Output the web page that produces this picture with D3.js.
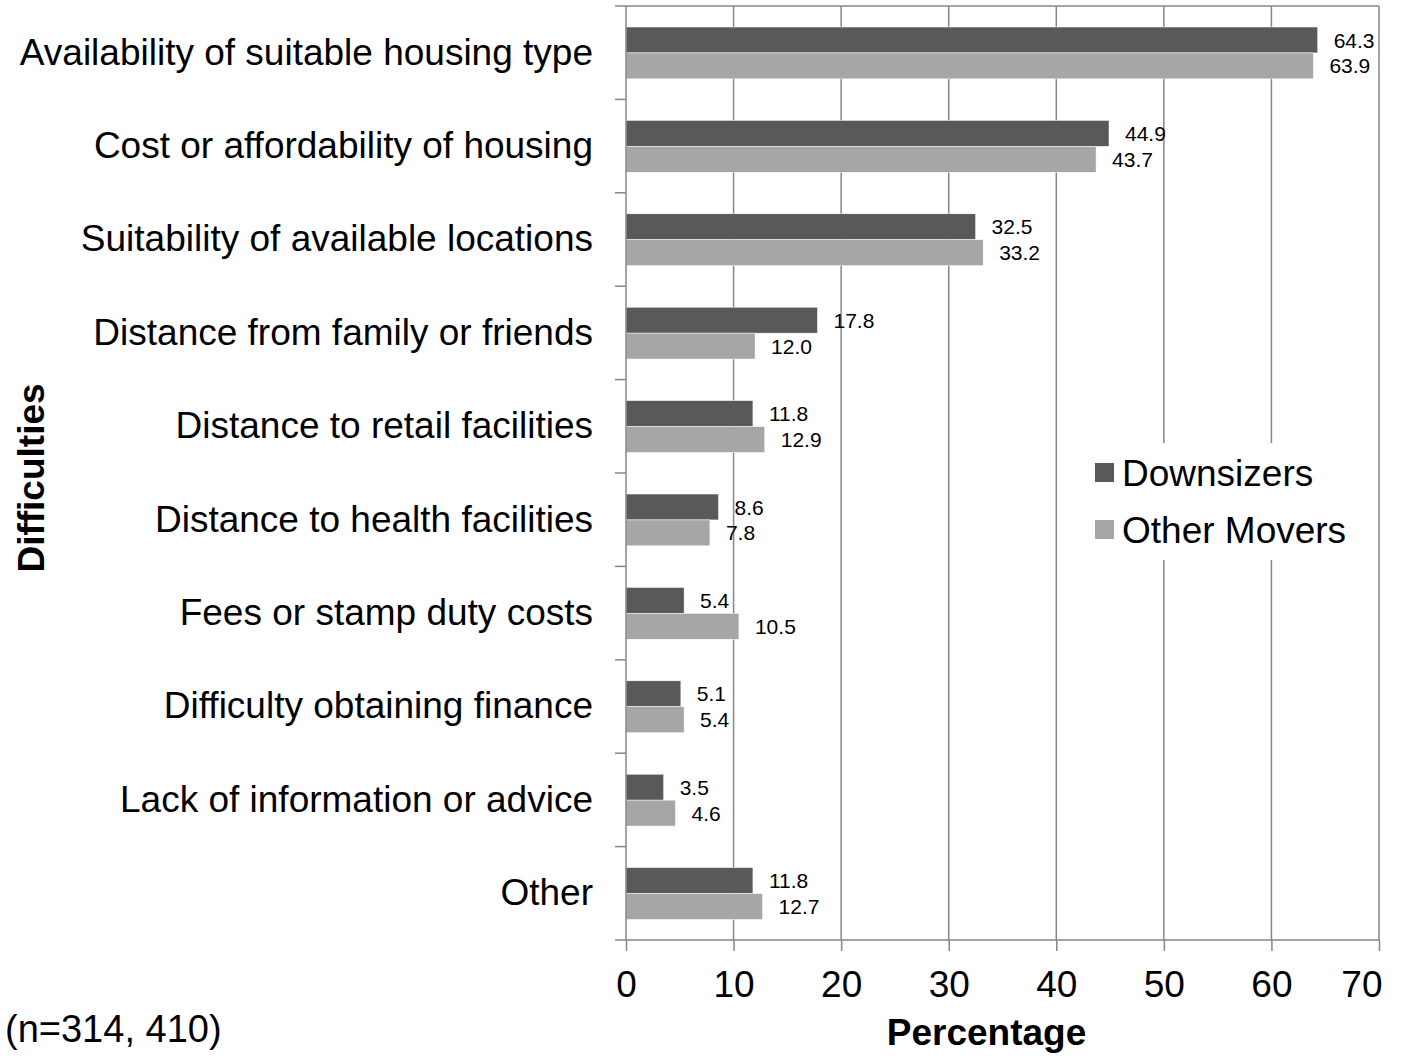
<!DOCTYPE html>
<html>
<head>
<meta charset="utf-8">
<script src="https://cdn.jsdelivr.net/npm/d3@7"></script>
<style>
  html, body { margin: 0; padding: 0; background: #fff; }
  svg { display: block; font-family: "Liberation Sans", Arial, sans-serif; }
</style>
</head>
<body>
<svg id="chart" width="1402" height="1056"></svg>
<script>
// data
const categories = [
  "Availability of suitable housing type",
  "Cost or affordability of housing",
  "Suitability of available locations",
  "Distance from family or friends",
  "Distance to retail facilities",
  "Distance to health facilities",
  "Fees or stamp duty costs",
  "Difficulty obtaining finance",
  "Lack of information or advice",
  "Other"
];
const seriesNames = ["Downsizers", "Other Movers"];
const downsizers  = [64.3, 44.9, 32.5, 17.8, 11.8, 8.6, 5.4, 5.1, 3.5, 11.8];
const otherMovers = [63.9, 43.7, 33.2, 12.0, 12.9, 7.8, 10.5, 5.4, 4.6, 12.7];
const xTicks = [0, 10, 20, 30, 40, 50, 60, 70];
const seriesColors = ["#595959", "#a6a6a6"];

const rows = categories.map((c, i) => ({
  cat: c,
  values: [
    { series: seriesNames[0], value: downsizers[i] },
    { series: seriesNames[1], value: otherMovers[i] }
  ]
}));

const svg = d3.select("#chart");
const plotLeft = 626, plotRight = 1379, plotTop = 6, plotBottom = 940;
const gridColor = "#868686";
const bigFont = 37;

let x = d3.scaleLinear().domain([0, 70]).range([plotLeft, plotRight]);
let y = d3.scaleBand().domain(categories).range([plotTop, plotBottom]).padding(0);
let ySub = d3.scaleBand().domain(seriesNames)
  .range([y.bandwidth() * 0.225, y.bandwidth() * 0.78]).padding(0);
let color = d3.scaleOrdinal().domain(seriesNames).range(seriesColors);

// gridlines
svg.append("g")
  .selectAll("line")
  .data(xTicks.slice(1))
  .enter().append("line")
    .attr("x1", d => x(d)).attr("x2", d => x(d))
    .attr("y1", plotTop).attr("y2", plotBottom)
    .attr("stroke", gridColor)
    .attr("stroke-width", 1.5);

// top line
svg.append("line")
  .attr("x1", plotLeft - 11).attr("x2", plotRight)
  .attr("y1", plotTop).attr("y2", plotTop)
  .attr("stroke", gridColor).attr("stroke-width", 1.5);

// bars
const groups = svg.append("g").selectAll(".row")
  .data(rows)
  .enter().append("g")
    .attr("class", "row")
    .attr("transform", d => `translate(0, ${y(d.cat)})`);

groups.selectAll("rect")
  .data(d => d.values)
  .enter().append("rect")
    .attr("x", x(0))
    .attr("y", d => ySub(d.series))
    .attr("width", d => x(d.value) - x(0))
    .attr("height", ySub.bandwidth())
    .attr("fill", d => color(d.series))
    .attr("stroke", "#fff")
    .attr("stroke-width", 0.5);

groups.selectAll("text")
  .data(d => d.values)
  .enter().append("text")
    .attr("x", d => x(d.value) + 16)
    .attr("y", d => ySub(d.series) + ySub.bandwidth() / 2)
    .attr("dy", "0.36em")
    .attr("font-size", 21)
    .attr("fill", "#000")
    .text(d => d.value.toFixed(1));

// x axis
const xAxis = svg.append("g")
  .attr("transform", `translate(0, ${plotBottom})`)
  .call(d3.axisBottom(x).tickValues(xTicks).tickSize(11).tickSizeOuter(0).tickPadding(20));
xAxis.select(".domain").remove();
xAxis.selectAll(".tick line").attr("stroke", gridColor).attr("stroke-width", 1.5);
xAxis.selectAll(".tick text")
  .attr("font-size", bigFont)
  .attr("font-family", "Liberation Sans, Arial, sans-serif")
  .attr("fill", "#000");
// last label is pulled inside the chart edge
xAxis.selectAll(".tick text")
  .filter(d => d === xTicks[xTicks.length - 1])
  .attr("text-anchor", "end")
  .attr("x", 3);
svg.append("line")
  .attr("x1", plotLeft - 11).attr("x2", plotRight)
  .attr("y1", plotBottom).attr("y2", plotBottom)
  .attr("stroke", gridColor).attr("stroke-width", 1.5);

// y axis
svg.append("line")
  .attr("x1", plotLeft).attr("x2", plotLeft)
  .attr("y1", plotTop).attr("y2", plotBottom)
  .attr("stroke", gridColor).attr("stroke-width", 1.5);
svg.append("g").selectAll("line")
  .data(categories.slice(1))
  .enter().append("line")
    .attr("x1", plotLeft - 11).attr("x2", plotLeft)
    .attr("y1", d => y(d)).attr("y2", d => y(d))
    .attr("stroke", gridColor).attr("stroke-width", 1.5);

const yAxis = svg.append("g")
  .attr("transform", `translate(${plotLeft}, 0)`)
  .call(d3.axisLeft(y).tickSize(0).tickPadding(33));
yAxis.select(".domain").remove();
yAxis.selectAll(".tick text")
  .attr("font-size", bigFont)
  .attr("font-family", "Liberation Sans, Arial, sans-serif")
  .attr("fill", "#000");

// axis titles
svg.append("text")
  .attr("x", (plotLeft + plotRight) / 2 - 16)
  .attr("y", 1045)
  .attr("text-anchor", "middle")
  .attr("font-size", bigFont)
  .attr("font-weight", "bold")
  .text("Percentage");

svg.append("text")
  .attr("transform", `translate(44, 478) rotate(-90)`)
  .attr("text-anchor", "middle")
  .attr("font-size", bigFont)
  .attr("font-weight", "bold")
  .text("Difficulties");

svg.append("text")
  .attr("x", 5)
  .attr("y", 1042)
  .attr("font-size", 38)
  .text("(n=314, 410)");

// legend
const legend = svg.append("g").attr("transform", "translate(1085, 443)");
legend.append("rect")
  .attr("width", 270).attr("height", 117)
  .attr("fill", "#fff");
const items = legend.selectAll(".item")
  .data(seriesNames)
  .enter().append("g")
    .attr("class", "item")
    .attr("transform", (d, i) => `translate(10, ${30 + i * 57})`);
items.append("rect")
  .attr("y", -10).attr("width", 19).attr("height", 19)
  .attr("fill", d => color(d));
items.append("text")
  .attr("x", 27)
  .attr("dy", "0.36em")
  .attr("font-size", bigFont)
  .text(d => d);
</script>
</body>
</html>
